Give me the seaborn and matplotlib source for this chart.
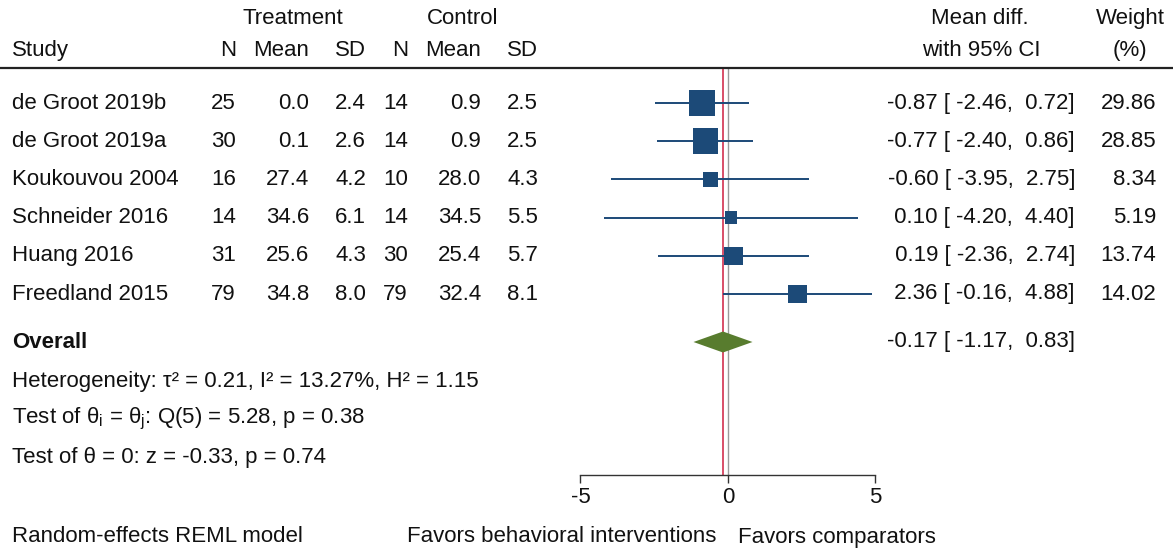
import numpy as np
import pandas as pd
import matplotlib
matplotlib.use("Agg")
import matplotlib.pyplot as plt
import seaborn as sns

# ---------------- data ----------------
studies = ["de Groot 2019b", "de Groot 2019a", "Koukouvou 2004",
           "Schneider 2016", "Huang 2016", "Freedland 2015"]
n_t = [25, 30, 16, 14, 31, 79]
mean_t = [0.0, 0.1, 27.4, 34.6, 25.6, 34.8]
sd_t = [2.4, 2.6, 4.2, 6.1, 4.3, 8.0]
n_c = [14, 14, 10, 14, 30, 79]
mean_c = [0.9, 0.9, 28.0, 34.5, 25.4, 32.4]
sd_c = [2.5, 2.5, 4.3, 5.5, 5.7, 8.1]
md = [-0.87, -0.77, -0.60, 0.10, 0.19, 2.36]
ci_lo = [-2.46, -2.40, -3.95, -4.20, -2.36, -0.16]
ci_hi = [0.72, 0.86, 2.75, 4.40, 2.74, 4.88]
weight = [29.86, 28.85, 8.34, 5.19, 13.74, 14.02]
overall_est, overall_lo, overall_hi = -0.17, -1.17, 0.83
x_ticks = [-5, 0, 5]
het_text = "Heterogeneity: τ² = 0.21, I² = 13.27%, H² = 1.15"
q_text = "Test of θ$_\\mathrm{i}$ = θ$_\\mathrm{j}$: Q(5) = 5.28, p = 0.38"
z_text = "Test of θ = 0: z = -0.33, p = 0.74"
model_text = "Random-effects REML model"
favors_left = "Favors behavioral interventions"
favors_right = "Favors comparators"

df = pd.DataFrame({"study": studies, "row": np.arange(len(studies)),
                   "md": md, "lo": ci_lo, "hi": ci_hi, "weight": weight})

# ---------------- style ----------------
sns.set_theme(style="white")
plt.rcParams["font.family"] = ["Liberation Sans", "DejaVu Sans"]
plt.rcParams["mathtext.fontset"] = "custom"
plt.rcParams["mathtext.rm"] = "Liberation Sans"
plt.rcParams["mathtext.it"] = "Liberation Sans:italic"
plt.rcParams["mathtext.bf"] = "Liberation Sans:bold"

W, H = 1173, 549
FS = 16
NAVY = "#1c4a78"
GREEN = "#587c2e"

fig = plt.figure(figsize=(W / 100, H / 100), dpi=100)
ax = fig.add_axes([0, 0, 1, 1])

# layout: row pixels -> row coordinate
ROW0, ROWH = 103.0, 38.2
UNIT, ZERO = 29.5, 728.0


def ry(py):
    return (py - ROW0) / ROWH


ax.set_xlim(-ZERO / UNIT, (W - ZERO) / UNIT)
ax.set_ylim(ry(H), ry(0))

# reference lines
ax.vlines(0, ry(68), ry(475), color="#9a9a9a", lw=1.0, zorder=1)
ax.vlines(overall_est, ry(68), ry(475), color="#d2304f", lw=1.2, zorder=1)

# CI lines
ax.hlines(df["row"], df["lo"], df["hi"], color=NAVY, lw=1.4, zorder=2)

# boxes: area proportional to weight
side_px = {w: 4.2 * np.sqrt(w) + 3 for w in weight}
sizes = {w: (s * 0.72) ** 2 for w, s in side_px.items()}
sns.scatterplot(data=df, x="md", y="row", size="weight", sizes=sizes,
                marker="s", color=NAVY, edgecolor="none", legend=False,
                ax=ax, zorder=3)

# overall diamond
dh = 10.5 / ROWH
oy = ry(342)
ax.fill([overall_lo, overall_est, overall_hi, overall_est],
        [oy, oy - dh, oy, oy + dh], color=GREEN, zorder=3, lw=0)

# header line
ax.axhline(ry(68), color="#222222", lw=1.6, zorder=1)

# axis
for s in ["top", "left", "right"]:
    ax.spines[s].set_visible(False)
ax.spines["bottom"].set_position(("data", ry(475)))
ax.spines["bottom"].set_bounds(x_ticks[0], x_ticks[-1])
ax.spines["bottom"].set_color("#333333")
ax.spines["bottom"].set_linewidth(1.0)
ax.set_xticks(x_ticks)
ax.set_xticklabels([str(t) for t in x_ticks])
ax.tick_params(axis="x", bottom=True, length=6, width=1.0, color="#333333",
               labelsize=FS, pad=3, labelcolor="#111111")
ax.set_yticks([])
ax.set_xlabel("")
ax.set_ylabel("")
ax.grid(False)

tr = ax.get_yaxis_transform()
TXT = "#111111"


def put(px, py, s, ha="left", **kw):
    ax.text(px / W, ry(py), s, transform=tr, ha=ha, va="center",
            fontsize=FS, color=TXT, **kw)


# headers
put(293, 18, "Treatment", ha="center")
put(463, 18, "Control", ha="center")
put(980, 18, "Mean diff.", ha="center")
put(1130, 18, "Weight", ha="center")
put(12, 50, "Study")
cols = [236, 309, 366, 408, 481, 538]
for px, lab in zip(cols, ["N", "Mean", "SD", "N", "Mean", "SD"]):
    put(px, 50, lab, ha="right")
put(981, 50, "with 95% CI", ha="center")
put(1130, 50, "(%)", ha="center")

# study rows
for i in range(len(studies)):
    py = ROW0 + ROWH * i
    put(12, py, studies[i])
    vals = [f"{n_t[i]}", f"{mean_t[i]:.1f}", f"{sd_t[i]:.1f}",
            f"{n_c[i]}", f"{mean_c[i]:.1f}", f"{sd_c[i]:.1f}"]
    for px, v in zip(cols, vals):
        put(px, py, v, ha="right")
    put(1075, py, f"{md[i]:5.2f} [{ci_lo[i]:6.2f}, {ci_hi[i]:5.2f}]", ha="right")
    put(1156, py, f"{weight[i]:.2f}", ha="right")

# overall
put(12, 342, "Overall", fontweight="bold")
put(1075, 342, f"{overall_est:5.2f} [{overall_lo:6.2f}, {overall_hi:5.2f}]", ha="right")
put(12, 381, het_text)
put(12, 419, q_text)
put(12, 457, z_text)

# bottom
put(12, 537, model_text)
put(716, 537, favors_left, ha="right")
put(738, 537, favors_right)

fig.savefig("out.png", dpi=100)
